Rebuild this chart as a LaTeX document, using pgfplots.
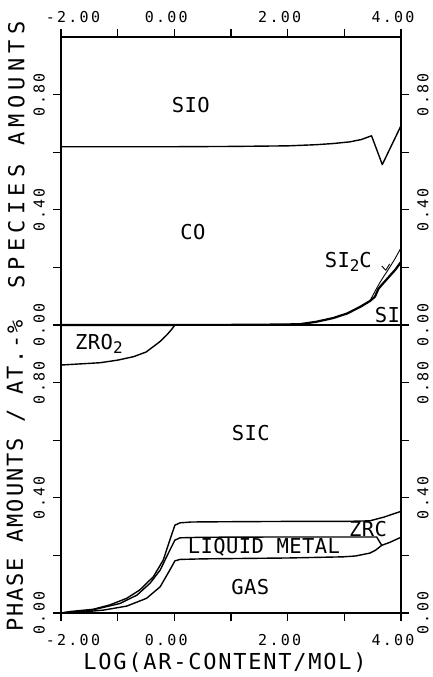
\documentclass[border=0pt]{standalone}
\usepackage{fontspec}
\setmainfont{DejaVu Sans Mono}
\usepackage{pgfplots}
\pgfplotsset{compat=1.18}
\newfontfamily\tickf[LetterSpace=15]{DejaVu Sans Mono}
\newfontfamily\ylabf[LetterSpace=24]{DejaVu Sans Mono}
\newfontfamily\ylabfb[LetterSpace=9]{DejaVu Sans Mono}
\newfontfamily\xlabf[LetterSpace=8]{DejaVu Sans Mono}
\newfontfamily\inplotf[LetterSpace=2]{DejaVu Sans Mono}
\newcommand{\tickfont}{\tickf\fontsize{15}{15}\selectfont}
\newcommand{\lab}{\inplotf\fontsize{20.5}{20}\selectfont}
\newcommand{\sub}[1]{\raisebox{-4pt}{\fontsize{16}{16}\selectfont #1}}

\pgfplotsset{
  cur/.style={black, mark=none, line width=1.4pt, line join=round},
  panel/.style={
    scale only axis, width=340pt, height=288pt,
    xmin=-2, xmax=4, ymin=0, ymax=1,
    axis line style={line width=1.1pt},
    tick style={line width=1.1pt, black},
    major tick length=8pt, tick align=outside,
    xtick={-2,-1,0,1,2,3,4}, ytick={0,0.2,0.4,0.6,0.8},
    clip=false,
  },
  xlabs/.style={xticklabels={\hspace{40pt}-2.00,,0.00,,2.00,,4.00},
    xticklabel style={font=\tickfont, inner sep=0pt, xshift=-8pt}},
  ylabs/.style={yticklabels={0.00,,0.40,,0.80},
    yticklabel style={font=\tickfont, inner sep=0pt, rotate=90}},
}

\begin{document}
\begin{tikzpicture}
% ---------------- bottom panel: phase amounts ----------------
\begin{axis}[panel, xlabs, ylabs, name=bot, at={(0,0)}, anchor=south west,
  xtick pos=lower, xticklabel pos=lower, ytick pos=left, yticklabel pos=left,
  xticklabel style={anchor=north}, yticklabel style={anchor=south},
  xticklabel shift=13pt, yticklabel shift=8pt]
% ZrO2 boundary
\addplot[cur] coordinates {(-2,0.861)(-1.31,0.869)(-1,0.878)(-0.72,0.890)(-0.5,0.906)(-0.37,0.925)(-0.25,0.943)(-0.135,0.965)(-0.05,0.984)(0.01,1.0)};
% SiC / ZrC boundary
\addplot[cur] coordinates {(-2,0)(-1.84,0.005)(-1.43,0.013)(-1.14,0.028)(-0.84,0.051)(-0.61,0.080)(-0.37,0.126)(-0.195,0.184)(-0.08,0.253)(0.01,0.305)(0.1,0.313)(0.3,0.316)(1,0.317)(2,0.318)(3,0.318)(3.45,0.320)(3.7,0.333)(3.85,0.343)(4,0.353)};
% ZrC / liquid metal boundary
\addplot[cur] coordinates {(-2,0)(-1.5,0.008)(-0.96,0.033)(-0.66,0.062)(-0.43,0.103)(-0.25,0.149)(-0.08,0.218)(0.01,0.253)(0.1,0.261)(0.5,0.263)(2,0.264)(3.57,0.264)(3.66,0.235)};
% liquid metal (ZrC) / gas boundary
\addplot[cur] coordinates {(-2,0)(-1.6,0.004)(-1.25,0.010)(-0.84,0.024)(-0.49,0.051)(-0.25,0.091)(-0.08,0.149)(0.01,0.181)(0.1,0.186)(0.5,0.188)(1,0.189)(2,0.191)(2.98,0.195)(3.2,0.198)(3.45,0.208)(3.55,0.218)(3.66,0.235)(3.8,0.245)(4,0.263)};
\node[font=\lab] at (axis cs:-1.33,0.934) {ZRO\sub{2}};
\node[font=\lab] at (axis cs:1.35,0.625) {SIC};
\node[font=\lab] at (axis cs:3.42,0.292) {ZRC};
\node[font=\lab] at (axis cs:1.58,0.227) {LIQUID METAL};
\node[font=\lab] at (axis cs:1.34,0.091) {GAS};
\end{axis}
% right labels of bottom panel
\begin{axis}[panel, ylabs, at={(0,0)}, anchor=south west, hide x axis,
  axis y line*=right, ytick pos=right, yticklabel pos=right,
  yticklabel style={anchor=north}, yticklabel shift=8pt]
\addplot[draw=none] coordinates {(0,0)};
\end{axis}

% ---------------- top panel: species amounts ----------------
\begin{axis}[panel, xlabs, ylabs, name=top, at={(bot.north west)}, anchor=south west,
  xtick pos=upper, xticklabel pos=upper, ytick pos=left, yticklabel pos=left,
  xticklabel style={anchor=south}, yticklabel style={anchor=south},
  xticklabel shift=6pt, yticklabel shift=8pt]
% SiO / CO boundary
\addplot[cur] coordinates {(-2,0.619)(0,0.619)(1,0.620)(2,0.622)(2.5,0.626)(2.8,0.630)(3.1,0.636)(3.3,0.644)(3.48,0.657)(3.67,0.557)(4,0.692)};
% Si2C / CO boundary
\addplot[cur, line width=0.9pt] coordinates {(-2,0)(1,0.0005)(1.5,0.001)(2,0.002)(2.22,0.003)(2.5,0.011)(2.8,0.024)(3.05,0.040)(3.28,0.063)(3.45,0.083)(3.55,0.120)(3.62,0.145)(3.7,0.170)(3.8,0.200)(3.9,0.232)(4,0.268)};
% Si / Si2C boundary
\addplot[cur, line width=2.2pt] coordinates {(-2,0)(1,0.0005)(1.5,0.001)(2,0.002)(2.22,0.003)(2.5,0.011)(2.8,0.024)(3.05,0.040)(3.28,0.063)(3.45,0.083)(3.54,0.098)(3.6,0.125)(3.65,0.137)(3.8,0.170)(3.9,0.192)(4,0.219)};
% pointer of the Si2C label
\addplot[cur, line width=0.9pt] coordinates {(3.66,0.205)(3.73,0.19)(3.8,0.212)};
\node[font=\lab] at (axis cs:0.29,0.765) {SIO};
\node[font=\lab] at (axis cs:0.33,0.322) {CO};
\node[font=\lab] at (axis cs:3.07,0.218) {SI\sub{2}C};
\node[font=\lab] at (axis cs:3.76,0.035) {SI};
\end{axis}
% right labels of top panel
\begin{axis}[panel, ylabs, at={(bot.north west)}, anchor=south west, hide x axis,
  axis y line*=right, ytick pos=right, yticklabel pos=right,
  yticklabel style={anchor=north}, yticklabel shift=8pt]
\addplot[draw=none] coordinates {(0,0)};
\end{axis}

% axis titles
\node[rotate=90, anchor=south, inner sep=0pt, font=\ylabf\fontsize{22}{22}\selectfont]
  at ([xshift=-36pt, yshift=26pt]top.west) {SPECIES AMOUNTS};
\node[rotate=90, anchor=south, inner sep=0pt, font=\ylabfb\fontsize{22}{22}\selectfont]
  at ([xshift=-36pt, yshift=-7pt]bot.west) {PHASE AMOUNTS / AT.-\%};
\node[anchor=north, inner sep=0pt, font=\xlabf\fontsize{22}{22}\selectfont]
  at ([xshift=-6pt, yshift=-40pt]bot.south) {LOG(AR-CONTENT/MOL)};

\pgfresetboundingbox
\path[use as bounding box] ([shift={(-61pt,-64pt)}]bot.south west) rectangle ([shift={(372pt,613pt)}]bot.south west);
\end{tikzpicture}
\end{document}
